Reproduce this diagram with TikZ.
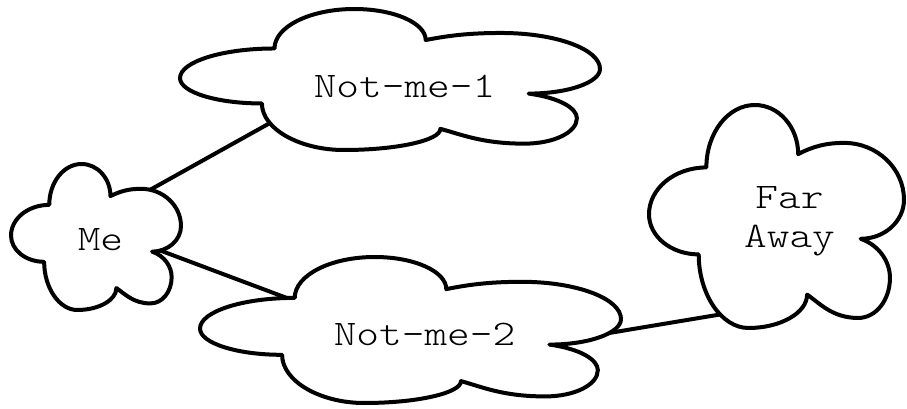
\documentclass[tikz,border=0pt]{standalone}
\usepackage{fontspec}
\setmonofont{lmmonolt10-regular.otf}[FakeStretch=1.2]
\usetikzlibrary{backgrounds}
\tikzset{
  puffy/.pic={
    \draw[line width=2pt,line join=round,fill=white]
      (-0.61,-0.34) .. controls (-0.825,-0.34) and (-1,-0.18) .. (-1,0.02)
      .. controls (-1,0.25) and (-0.8,0.44) .. (-0.55,0.44)
      .. controls (-0.55,0.75) and (-0.38,1) .. (-0.17,1)
      .. controls (0.02,1) and (0.17,0.8) .. (0.17,0.56)
      .. controls (0.29,0.63) and (0.39,0.66) .. (0.53,0.66)
      .. controls (0.79,0.66) and (1,0.43) .. (1,0.15)
      .. controls (1,-0.04) and (0.85,-0.2) .. (0.66,-0.2)
      .. controls (0.81,-0.26) and (0.89,-0.41) .. (0.89,-0.55)
      .. controls (0.89,-0.75) and (0.78,-0.91) .. (0.64,-0.91)
      .. controls (0.44,-0.91) and (0.34,-0.78) .. (0.24,-0.7)
      .. controls (0.24,-0.865) and (0.03,-1) .. (-0.22,-1)
      .. controls (-0.43,-1) and (-0.61,-0.7) .. (-0.61,-0.34) -- cycle;
  },
  txt/.style={inner sep=1pt,align=center,font=\fontsize{18}{19.5}\selectfont\ttfamily},
  link/.style={line width=2pt},
}

\begin{document}
\begin{tikzpicture}[x=0.5pt,y=0.5pt]
 \useasboundingbox (0,0) rectangle (907,408);
 % cloud outlines
 \pic[xscale=85,yscale=73] at (96,171) {puffy};
 \pic[xscale=210,yscale=70.5] at (390,328.5) {puffy};
 \pic[xscale=210.5,yscale=73] at (410.5,78) {puffy};
 \pic[xscale=127.5,yscale=111.5] at (776.5,191.5) {puffy};
 % labels
 \node[txt] (me) at (100.5,168.5) {Me};
 \node[txt] (nm1) at (404.5,322) {Not-me-1};
 \node[txt] (nm2) at (424.5,74) {Not-me-2};
 \node[txt] (far) at (789.5,186.5) {Far\\Away};
 % links run underneath the clouds
 \begin{scope}[on background layer]
  \draw[link] ([yshift=11]me.center) -- ([yshift=19]nm1.center);
  \draw[link] ([yshift=5.7]me.center) -- ([yshift=-7.8]nm2.center);
  \draw[link] ([yshift=-14.9]nm2.center) -- ([yshift=-40.7]far.center);
 \end{scope}
\end{tikzpicture}
\end{document}
